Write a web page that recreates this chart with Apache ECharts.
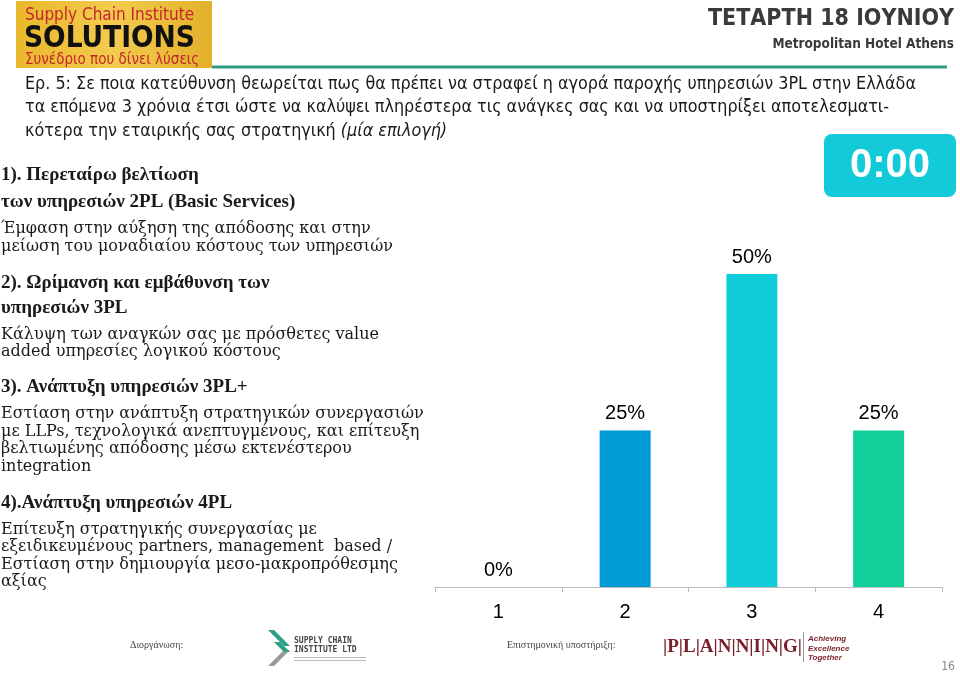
<!DOCTYPE html>
<html>
<head>
<meta charset="utf-8">
<script src="https://cdn.jsdelivr.net/npm/echarts@6/dist/echarts.min.js"></script>
<style>
html,body{margin:0;padding:0;background:#fff;}
#main{width:960px;height:674px;}
</style>
</head>
<body>
<div id="main"></div>
<script>
var categories = ['1', '2', '3', '4'];
var values = [0, 25, 50, 25];
var barColors = ['#009AD5', '#009AD5', '#10CDD9', '#13CF9B'];

var questionLines = [
  'Ερ. 5: Σε ποια κατεύθυνση θεωρείται πως θα πρέπει να στραφεί η αγορά παροχής υπηρεσιών 3PL στην Ελλάδα',
  'τα επόμενα 3 χρόνια έτσι ώστε να καλύψει πληρέστερα τις ανάγκες σας και να υποστηρίξει αποτελεσματι-',
  'κότερα την εταιρικής σας στρατηγική '
];
var questionItalic = '(μία επιλογή)';

var optionLines = [
  ['b', '1). Περεταίρω βελτίωση', 175],
  ['b', 'των υπηρεσιών 2PL (Basic Services)', 202],
  ['n', 'Έμφαση στην αύξηση της απόδοσης και στην', 229],
  ['n', 'μείωση του μοναδιαίου κόστους των υπηρεσιών', 247],
  ['b', '2). Ωρίμανση και εμβάθυνση των', 283],
  ['b', 'υπηρεσιών 3PL', 308],
  ['n', 'Κάλυψη των αναγκών σας με πρόσθετες value', 335],
  ['n', 'added υπηρεσίες λογικού κόστους', 352],
  ['b', '3). Ανάπτυξη υπηρεσιών 3PL+', 387],
  ['n', 'Εστίαση στην ανάπτυξη στρατηγικών συνεργασιών', 414],
  ['n', 'με LLPs, τεχνολογικά ανεπτυγμένους, και επίτευξη', 432],
  ['n', 'βελτιωμένης απόδοσης μέσω εκτενέστερου', 449],
  ['n', 'integration', 467],
  ['b', '4).Ανάπτυξη υπηρεσιών 4PL', 503],
  ['n', 'Επίτευξη στρατηγικής συνεργασίας με', 530],
  ['n', 'εξειδικευμένους partners, management  based /', 547],
  ['n', 'Εστίαση στην δημιουργία μεσο-μακροπρόθεσμης', 565],
  ['n', 'αξίας', 582]
];

var chart = echarts.init(document.getElementById('main'), null, {renderer: 'canvas'});

var narrow = '"Liberation Sans Narrow", "DejaVu Sans Condensed", Arial, sans-serif';
var serif = '"DejaVu Serif", "Liberation Serif", serif';
var boldSerif = '"Liberation Serif", "DejaVu Serif", serif';

var graphics = [];

// top-left logo
graphics.push({type: 'rect', shape: {x: 16, y: 1, width: 196, height: 67},
  style: {fill: new echarts.graphic.LinearGradient(0, 0, 1, 0, [
    {offset: 0, color: '#E9B82C'}, {offset: 0.5, color: '#F3CB4E'}, {offset: 1, color: '#E2B02A'}])}});
graphics.push({type: 'text', x: 25, y: 16, style: {text: 'Supply Chain Institute', fill: '#C4262E',
  font: '17px "DejaVu Sans Condensed", sans-serif', textVerticalAlign: 'middle'}});
graphics.push({type: 'text', x: 24, y: 39, style: {text: 'SOLUTIONS', fill: '#111',
  font: 'bold 29.5px "DejaVu Sans Condensed", sans-serif', textVerticalAlign: 'middle'}});
graphics.push({type: 'text', x: 25, y: 60, style: {text: 'Συνέδριο που δίνει λύσεις', fill: '#C4262E',
  font: '15px "DejaVu Sans Condensed", sans-serif', textVerticalAlign: 'middle'}});

// green line
graphics.push({type: 'rect', shape: {x: 212, y: 65.5, width: 735, height: 3}, style: {fill: '#2E9B7E'}});

// header right
graphics.push({type: 'text', x: 954, y: 19, style: {text: 'ΤΕΤΑΡΤΗ 18 ΙΟΥΝΙΟΥ', fill: '#3A3A3A',
  font: 'bold 23px "DejaVu Sans Condensed", sans-serif', textAlign: 'right', textVerticalAlign: 'middle'}});
graphics.push({type: 'text', x: 954, y: 44, style: {text: 'Metropolitan Hotel Athens', fill: '#3A3A3A',
  font: 'bold 13.5px "DejaVu Sans Condensed", sans-serif', textAlign: 'right', textVerticalAlign: 'middle'}});

// question
graphics.push({type: 'text', x: 25, y: 84, style: {text: questionLines[0], fill: '#1A1A1A',
  font: '17.8px ' + narrow, textVerticalAlign: 'middle'}});
graphics.push({type: 'text', x: 25, y: 107, style: {text: questionLines[1], fill: '#1A1A1A',
  font: '17.8px ' + narrow, textVerticalAlign: 'middle'}});
graphics.push({type: 'text', x: 25, y: 131, style: {
  text: '{n|' + questionLines[2] + '}{i|' + questionItalic + '}',
  rich: {n: {fontSize: 17.8, fontFamily: narrow, fill: '#1A1A1A', color: '#1A1A1A'},
         i: {fontSize: 17.8, fontFamily: narrow, fontStyle: 'italic', fill: '#1A1A1A', color: '#1A1A1A'}},
  textVerticalAlign: 'middle'}});

// options
optionLines.forEach(function (l) {
  graphics.push({type: 'text', x: 1, y: l[2], style: {text: l[1], fill: '#1A1A1A',
    font: (l[0] === 'b' ? 'bold 19px ' + boldSerif : '16px ' + serif), textVerticalAlign: 'middle'}});
});

// timer
graphics.push({type: 'rect', shape: {x: 824, y: 134, width: 132, height: 63, r: 8}, style: {fill: '#13CBD8'}});
graphics.push({type: 'text', x: 890, y: 166, style: {text: '0:00', fill: '#fff',
  font: 'bold 40px Arial, "Liberation Sans", sans-serif', textAlign: 'center', textVerticalAlign: 'middle'}});

// footer
graphics.push({type: 'text', x: 130, y: 645, style: {text: 'Διοργάνωση:', fill: '#444',
  font: '10px "Liberation Serif", serif', textVerticalAlign: 'middle'}});
graphics.push({type: 'polygon', shape: {points: [[268, 630], [274, 630], [290, 646], [284, 646]]}, style: {fill: '#2E9E86'}});
graphics.push({type: 'polygon', shape: {points: [[284, 650], [290, 650], [274, 666], [268, 666]]}, style: {fill: '#9A9A9A'}});
graphics.push({type: 'polygon', shape: {points: [[274, 642], [280, 642], [290, 652], [284, 652]]}, style: {fill: '#2E9E86'}});
graphics.push({type: 'text', x: 294, y: 641, style: {text: 'SUPPLY CHAIN', fill: '#444',
  font: 'bold 8px "DejaVu Sans Mono", monospace', textVerticalAlign: 'middle'}});
graphics.push({type: 'text', x: 294, y: 650, style: {text: 'INSTITUTE LTD', fill: '#444',
  font: 'bold 8px "DejaVu Sans Mono", monospace', textVerticalAlign: 'middle'}});
graphics.push({type: 'rect', shape: {x: 294, y: 657, width: 72, height: 1}, style: {fill: '#bbb'}});
graphics.push({type: 'rect', shape: {x: 294, y: 660, width: 72, height: 1}, style: {fill: '#bbb'}});

graphics.push({type: 'text', x: 507, y: 645, style: {text: 'Επιστημονική υποστήριξη:', fill: '#444',
  font: '10px "Liberation Serif", serif', textVerticalAlign: 'middle'}});
graphics.push({type: 'text', x: 663, y: 647, style: {text: '|P|L|A|N|N|I|N|G|', fill: '#7A1E2A',
  font: 'bold 19px "Liberation Serif", serif', textVerticalAlign: 'middle'}});
graphics.push({type: 'rect', shape: {x: 803, y: 632, width: 1, height: 30}, style: {fill: '#999'}});
['Achieving', 'Excellence', 'Together'].forEach(function (t, i) {
  graphics.push({type: 'text', x: 808, y: 639 + i * 9.5, style: {text: t, fill: '#7A1E2A',
    font: 'italic bold 8px "Liberation Sans", sans-serif', textVerticalAlign: 'middle'}});
});
graphics.push({type: 'text', x: 948, y: 667, style: {text: '16', fill: '#888',
  font: '12px "Liberation Sans Narrow", "DejaVu Sans Condensed", sans-serif', textAlign: 'center', textVerticalAlign: 'middle'}});

var option = {
  animation: false,
  backgroundColor: '#fff',
  grid: {left: 435, right: 18, top: 274, bottom: 87},
  xAxis: {
    type: 'category',
    data: categories,
    axisLine: {lineStyle: {color: '#BDBDBD', width: 1}},
    axisTick: {show: true, length: 5, lineStyle: {color: '#BDBDBD'}},
    axisLabel: {color: '#000', fontSize: 20, fontFamily: 'Arial, "Liberation Sans", sans-serif', margin: 15}
  },
  yAxis: {type: 'value', min: 0, max: 50, show: false, splitLine: {show: false}},
  series: [{
    type: 'bar',
    data: values.map(function (v, i) { return {value: v, itemStyle: {color: barColors[i]}}; }),
    barWidth: 51,
    label: {show: true, position: 'top', distance: 7, formatter: '{c}%', color: '#000',
      fontSize: 20, fontFamily: 'Arial, "Liberation Sans", sans-serif'}
  }],
  graphic: graphics
};
chart.setOption(option);
</script>
</body>
</html>
